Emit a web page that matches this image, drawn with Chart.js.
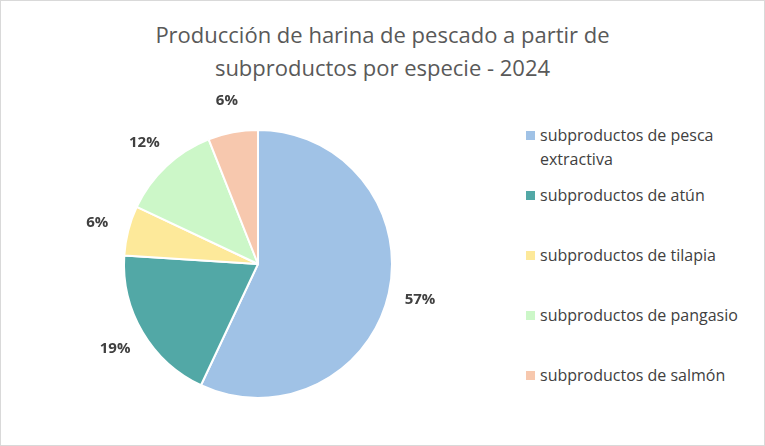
<!DOCTYPE html>
<html><head><meta charset="utf-8">
<script src="https://cdn.jsdelivr.net/npm/chart.js@4/dist/chart.umd.min.js"></script>
<style>
body{margin:0;background:#fff;font-family:"Open Sans","Liberation Sans",sans-serif;}
#wrap{position:relative;width:763px;height:444px;border:1px solid #d9d9d9;}
#title{position:absolute;left:0;width:763px;top:17px;text-align:center;font-size:22px;line-height:33px;color:#595959;}
#legend{position:absolute;left:523px;top:122px;font-size:16px;color:#404040;line-height:24px;}
.li{position:relative;padding-left:16px;height:60px;width:220px;}
.sw{position:absolute;left:2px;top:8px;width:9px;height:9px;}
canvas{position:absolute;left:0;top:0;}
</style></head><body>
<div id="wrap">
<div id="title">Producción de harina de pescado a partir de<br>subproductos por especie - 2024</div>
<div id="legend"></div>
<canvas id="c" width="763" height="444"></canvas>
</div>
<script>
const categories=["subproductos de pesca extractiva","subproductos de atún","subproductos de tilapia","subproductos de pangasio","subproductos de salmón"];
const values=[57,19,6,12,6];
const colors=["#a0c2e6","#52a8a6","#fde99a","#ccf7c8","#f7c8ae"];
const lg=document.getElementById('legend');
categories.forEach((c,i)=>{const d=document.createElement('div');d.className='li';d.innerHTML='<span class="sw" style="background:'+colors[i]+'"></span>'+(i==0?'subproductos de pesca<br>extractiva':c);lg.appendChild(d);});
const labelPlugin={id:'lbl',afterDatasetsDraw(ch){const ctx=ch.ctx;const m=ch.getDatasetMeta(0);ctx.save();ctx.font='bold 15px "Open Sans", sans-serif';ctx.fillStyle='#404040';ctx.textAlign='center';ctx.textBaseline='middle';
m.data.forEach((a,i)=>{const ang=(a.startAngle+a.endAngle)/2;const r=a.outerRadius+32;ctx.fillText(values[i]+'%',a.x+Math.cos(ang)*r,a.y+Math.sin(ang)*r);});ctx.restore();}};
new Chart(document.getElementById('c'),{type:'pie',data:{labels:categories,datasets:[{data:values,backgroundColor:colors,borderColor:'#fff',borderWidth:2}]},
options:{responsive:false,animation:false,layout:{padding:{top:128,bottom:46,left:122,right:371}},plugins:{legend:{display:false},tooltip:{enabled:false}}},plugins:[labelPlugin]});
</script></body></html>
